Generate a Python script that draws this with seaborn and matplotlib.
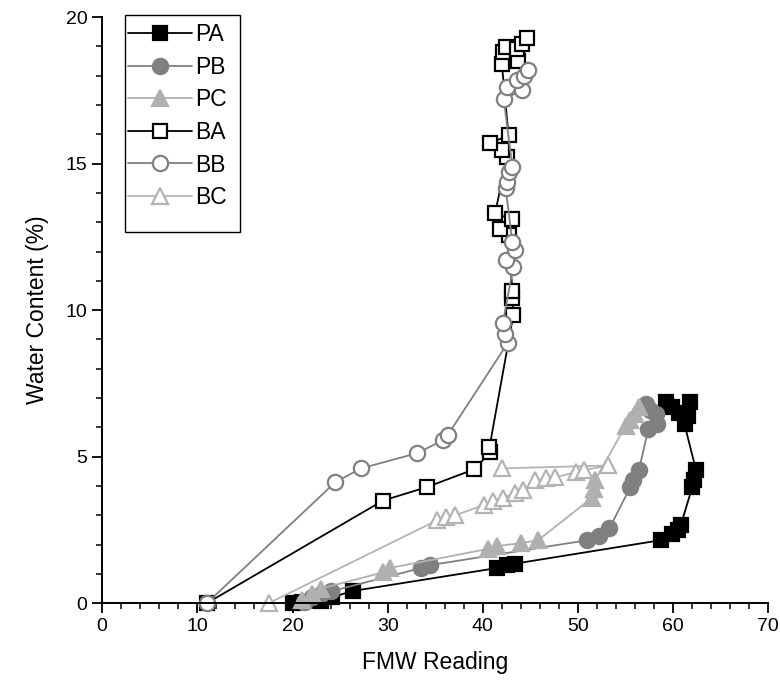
import matplotlib
matplotlib.use("Agg")
import matplotlib.pyplot as plt
import seaborn as sns
import pandas as pd
from matplotlib.ticker import MultipleLocator
from matplotlib.patches import Rectangle

# ---- data ----
pa_x = [20.1, 21.0, 23.0, 24.1, 26.4, 41.5, 42.5, 43.4, 58.7, 59.9, 60.5, 60.8,
        62.0, 62.2, 62.4, 61.2, 61.6, 61.8, 60.6, 59.9, 59.2]
pa_y = [0.0, 0.05, 0.08, 0.2, 0.42, 1.2, 1.3, 1.35, 2.15, 2.35, 2.5, 2.66,
        3.95, 4.2, 4.55, 6.1, 6.4, 6.85, 6.5, 6.7, 6.87]

pb_x = [21.2, 22.0, 23.0, 24.0, 33.5, 34.5, 51.0, 52.2, 53.3, 55.5, 55.8, 56.4,
        57.4, 58.3, 58.2, 57.6, 57.1]
pb_y = [0.05, 0.2, 0.3, 0.4, 1.2, 1.3, 2.15, 2.3, 2.55, 3.96, 4.2, 4.54,
        5.95, 6.1, 6.45, 6.6, 6.8]

pc_x = [21.0, 22.0, 23.0, 29.5, 30.2, 40.5, 41.5, 44.0, 45.8, 51.5, 51.7, 51.8,
        55.0, 55.5, 56.0, 56.4]
pc_y = [0.1, 0.3, 0.5, 1.05, 1.2, 1.85, 1.95, 2.05, 2.15, 3.6, 3.9, 4.2,
        6.05, 6.25, 6.45, 6.7]

ba_x = [11.0, 29.5, 34.1, 39.1, 40.8, 40.7, 43.2, 43.1, 43.1, 42.7, 41.8, 43.1,
        41.3, 42.5, 42.0, 40.8, 42.7, 42.0, 43.7, 42.1, 42.4, 43.6, 44.1, 44.6]
ba_y = [0.0, 3.5, 3.96, 4.57, 5.15, 5.32, 9.83, 10.4, 10.66, 12.56, 12.76, 13.1,
        13.3, 15.23, 15.46, 15.7, 15.97, 18.4, 18.5, 18.8, 18.99, 18.9, 19.1, 19.3]

bb_x = [11.0, 24.5, 27.2, 33.1, 35.8, 36.3, 42.6, 42.3, 42.1, 43.2, 42.4, 43.4,
        43.1, 42.4, 42.5, 42.7, 43.1, 42.2, 44.1, 42.5, 43.6, 44.3, 44.8]
bb_y = [0.0, 4.13, 4.6, 5.12, 5.56, 5.73, 8.87, 9.2, 9.55, 11.47, 11.7, 12.05,
        12.33, 14.16, 14.38, 14.7, 14.9, 17.2, 17.5, 17.6, 17.85, 18.0, 18.2]

bc_x = [17.5, 35.2, 36.1, 37.1, 40.1, 41.1, 42.1, 43.4, 44.2, 45.5, 46.6, 47.6,
        49.8, 50.6, 53.2, 42.0]
bc_y = [0.0, 2.83, 2.94, 3.0, 3.35, 3.5, 3.6, 3.75, 3.85, 4.2, 4.27, 4.3,
        4.47, 4.54, 4.7, 4.6]

series = ["PA", "PB", "PC", "BA", "BB", "BC"]
xs = [pa_x, pb_x, pc_x, ba_x, bb_x, bc_x]
ys = [pa_y, pb_y, pc_y, ba_y, bb_y, bc_y]

x_ticks = [0, 10, 20, 30, 40, 50, 60, 70]
y_ticks = [0, 5, 10, 15, 20]

# ---- styles ----
styles = {
    "PA": dict(color="black", marker="s", mfc="black", mec="black"),
    "PB": dict(color="#808080", marker="o", mfc="#808080", mec="#808080"),
    "PC": dict(color="#b0b0b0", marker="^", mfc="#b0b0b0", mec="#b0b0b0"),
    "BA": dict(color="black", marker="s", mfc="white", mec="black"),
    "BB": dict(color="#808080", marker="o", mfc="white", mec="#808080"),
    "BC": dict(color="#b4b4b4", marker="^", mfc="white", mec="#b4b4b4"),
}
msizes = {"s": 10, "o": 11, "^": 11}

sns.set_style("ticks")
plt.rcParams["font.family"] = ["Liberation Sans", "DejaVu Sans"]
plt.rcParams["text.color"] = "black"
plt.rcParams["axes.labelcolor"] = "black"
plt.rcParams["xtick.color"] = "black"
plt.rcParams["ytick.color"] = "black"

fig = plt.figure(figsize=(7.8, 6.87), dpi=100)
ax = fig.add_axes([0.131, 0.122, 0.854, 0.853])

for name, x, y in zip(series, xs, ys):
    df = pd.DataFrame({"x": x, "y": y})
    st = styles[name]
    sns.lineplot(data=df, x="x", y="y", sort=False, estimator=None, ax=ax,
                 color=st["color"], marker=st["marker"],
                 markerfacecolor=st["mfc"], markeredgecolor=st["mec"],
                 markersize=msizes[st["marker"]], markeredgewidth=1.6,
                 linewidth=1.3, label=name, clip_on=False)

ax.set_xlim(0, 70)
ax.set_ylim(0, 20)
ax.set_xticks(x_ticks)
ax.set_yticks(y_ticks)
ax.xaxis.set_minor_locator(MultipleLocator(2))
ax.yaxis.set_minor_locator(MultipleLocator(1))
ax.tick_params(which="major", direction="out", length=7, width=1.3,
               labelsize=14, colors="black")
ax.tick_params(which="minor", direction="out", length=4, width=1.1)
for s in ["top", "right"]:
    ax.spines[s].set_visible(False)
for s in ["left", "bottom"]:
    ax.spines[s].set_linewidth(1.4)
    ax.spines[s].set_color("black")

ax.set_xlabel("FMW Reading", fontsize=16.5, labelpad=12, color="black")
ax.set_ylabel("Water Content (%)", fontsize=16.5, labelpad=12, color="black")

handles, labels = ax.get_legend_handles_labels()
leg = ax.legend(handles, labels, loc="upper left",
                bbox_to_anchor=(128 / 780, 1 - 23 / 687),
                bbox_transform=fig.transFigure,
                borderaxespad=0, borderpad=0, fontsize=16.5, frameon=False,
                handlelength=2.8, labelspacing=0.42, handletextpad=0.15)
for t in leg.get_texts():
    t.set_color("black")

# legend frame (reference box has extra space at the bottom)
fig.patches.append(Rectangle((125 / 780, 1 - 232 / 687), 115 / 780, 217 / 687,
                             transform=fig.transFigure, fill=False,
                             edgecolor="black", linewidth=1.0, zorder=5))

fig.savefig("out.png", dpi=100)
